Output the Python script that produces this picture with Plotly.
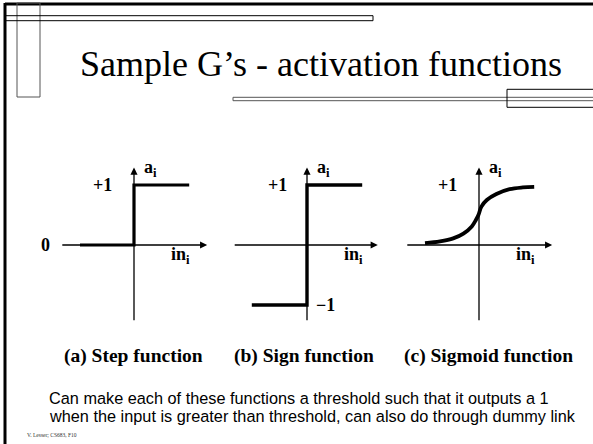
import plotly.graph_objects as go

# ---------------- data ----------------
panel_titles = ["(a) Step function", "(b) Sign function", "(c) Sigmoid function"]

step_x = [-0.9, 0.0, 0.0, 0.92]
step_y = [0.0, 0.0, 1.0, 1.0]

sign_x = [-0.92, 0.0, 0.0, 0.92]
sign_y = [-1.0, -1.0, 1.0, 1.0]

sigmoid_x = [-0.9, -0.65, -0.43, -0.26, -0.12, -0.05, -0.01, 0.04, 0.13, 0.29, 0.51, 0.73, 0.92]
sigmoid_y = [0.03, 0.06, 0.11, 0.19, 0.31, 0.42, 0.50, 0.64, 0.75, 0.85, 0.93, 0.96, 0.97]

step_ticks = ["+1", "0"]
step_tick_vals = [1, 0]
sign_ticks = ["+1", "\u22121"]
sign_tick_vals = [1, -1]
sigmoid_ticks = ["+1"]
sigmoid_tick_vals = [1]

y_axis_label = "a<sub>i</sub>"
x_axis_label = "in<sub>i</sub>"

slide_title = "Sample G\u2019s - activation functions"
body_lines = [
    "Can make each of these functions a threshold such that it outputs a 1",
    "when the input is greater than threshold, can also do through dummy link",
]
footer = "V. Lesser; CS683, F10"

# ---------------- layout helpers ----------------
W, H = 593, 444
UNIT = 60.0
HALF = 1.4
centers_px = [134, 307, 479]
cy_px = 245
SERIF = "Liberation Serif, Times New Roman, serif"
SANS = "Liberation Sans, Arial, sans-serif"


def pxx(x):
    return x / W


def pxy(y):
    return 1 - y / H


fig = go.Figure()

layout_axes = {}
for i, c in enumerate(centers_px):
    sfx = "" if i == 0 else str(i + 1)
    layout_axes["xaxis" + sfx] = dict(
        domain=[pxx(c - HALF * UNIT), pxx(c + HALF * UNIT)],
        range=[-HALF, HALF], visible=False, fixedrange=True,
        anchor="y" + sfx,
    )
    layout_axes["yaxis" + sfx] = dict(
        domain=[pxy(cy_px + HALF * UNIT), pxy(cy_px - HALF * UNIT)],
        range=[-HALF, HALF], visible=False, fixedrange=True,
        anchor="x" + sfx,
    )

series = [(step_x, step_y, 3.2, "linear"),
          (sign_x, sign_y, 3.4, "linear"),
          (sigmoid_x, sigmoid_y, 3.8, "spline")]
for i, (xs, ys, w, shape) in enumerate(series):
    sfx = "" if i == 0 else str(i + 1)
    fig.add_trace(go.Scatter(
        x=xs, y=ys, mode="lines",
        line=dict(color="black", width=w, shape=shape),
        xaxis="x" + sfx, yaxis="y" + sfx, showlegend=False, hoverinfo="skip",
    ))

annotations = []
axis_ext = [(-1.22, 1.22), (-1.23, 1.18), (-1.22, 1.22)]
for i in range(3):
    sfx = "" if i == 0 else str(i + 1)
    xr, yr = "x" + sfx, "y" + sfx
    annotations.append(dict(
        x=axis_ext[i][1], y=0, ax=axis_ext[i][0], ay=0,
        xref=xr, yref=yr, axref=xr, ayref=yr, text="", showarrow=True,
        arrowhead=2, arrowsize=1.1, arrowwidth=1.3, arrowcolor="black",
    ))
    annotations.append(dict(
        x=0, y=1.29, ax=0, ay=-1.28,
        xref=xr, yref=yr, axref=xr, ayref=yr, text="", showarrow=True,
        arrowhead=2, arrowsize=1.1, arrowwidth=1.3, arrowcolor="black",
    ))
    annotations.append(dict(
        x=0.27, y=1.28, xref=xr, yref=yr, text="<b>" + y_axis_label + "</b>",
        xanchor="center", yanchor="middle",
        showarrow=False, font=dict(family=SERIF, size=18, color="black"),
    ))
    annotations.append(dict(
        x=0.78, y=-0.17, xref=xr, yref=yr, text="<b>" + x_axis_label + "</b>",
        xanchor="center", yanchor="middle",
        showarrow=False, font=dict(family=SERIF, size=18, color="black"),
    ))

# level labels: x offset in units from each panel's vertical axis
tick_sets = [(step_ticks, step_tick_vals, [-0.52, -1.48]),
             (sign_ticks, sign_tick_vals, [-0.5, 0.3]),
             (sigmoid_ticks, sigmoid_tick_vals, [-0.52])]
for i, (labels, vals, xs) in enumerate(tick_sets):
    sfx = "" if i == 0 else str(i + 1)
    for lab, v, xx in zip(labels, vals, xs):
        if abs(xx) < HALF:
            xref, xpos = "x" + sfx, xx
        else:
            xref, xpos = "paper", pxx(centers_px[i] + xx * UNIT)
        annotations.append(dict(
            x=xpos, y=v, xref=xref, yref="y" + sfx, text="<b>" + lab + "</b>",
            xanchor="center", yanchor="middle",
            showarrow=False, font=dict(family=SERIF, size=18, color="black"),
        ))

title_centers = [133.5, 304, 488]
for t, cx in zip(panel_titles, title_centers):
    annotations.append(dict(
        x=pxx(cx), y=pxy(356), xref="paper", yref="paper", text="<b>" + t + "</b>",
        xanchor="center", yanchor="middle",
        showarrow=False, font=dict(family=SERIF, size=19.5, color="black"),
    ))

annotations.append(dict(
    x=pxx(320.5), y=pxy(64), xref="paper", yref="paper", text=slide_title,
    xanchor="center", yanchor="middle",
    showarrow=False, font=dict(family=SERIF, size=36, color="black"),
))
for line_text, yy in zip(body_lines, [398, 416]):
    annotations.append(dict(
        x=pxx(47), y=pxy(yy), xref="paper", yref="paper", text=line_text,
        xanchor="left", yanchor="middle",
        showarrow=False, font=dict(family=SANS, size=16.3, color="black"),
    ))
annotations.append(dict(
    x=pxx(25), y=pxy(435), xref="paper", yref="paper", text=footer,
    xanchor="left", yanchor="middle",
    showarrow=False, font=dict(family=SERIF, size=5.5, color="#333"),
))

shapes = []


def rect(x0, y0, x1, y1, color, w):
    shapes.append(dict(type="rect", xref="paper", yref="paper",
                       x0=pxx(x0), x1=pxx(x1), y0=pxy(y0), y1=pxy(y1),
                       line=dict(color=color, width=w), fillcolor="rgba(0,0,0,0)"))


def line(x0, y0, x1, y1, color, w):
    shapes.append(dict(type="line", xref="paper", yref="paper",
                       x0=pxx(x0), x1=pxx(x1), y0=pxy(y0), y1=pxy(y1),
                       line=dict(color=color, width=w)))


# slide frame decorations
line(5, 4, 600, 4, "black", 3)
line(5, 3, 5, 450, "black", 3)
rect(17, 3, 40, 97, "#555", 1)
rect(5, 15.7, 373, 20.7, "black", 1)
rect(233, 97.3, 600, 100.7, "#555", 1)
rect(507, 89.3, 600, 107.3, "black", 1)

fig.update_layout(
    width=W, height=H, margin=dict(l=0, r=0, t=0, b=0),
    paper_bgcolor="white", plot_bgcolor="white",
    annotations=annotations, shapes=shapes, showlegend=False,
    **layout_axes,
)

fig.write_html(
    "out.html",
    config={"displayModeBar": False, "staticPlot": True},
    post_script="document.body.style.margin='0';document.body.style.overflow='hidden';",
)
